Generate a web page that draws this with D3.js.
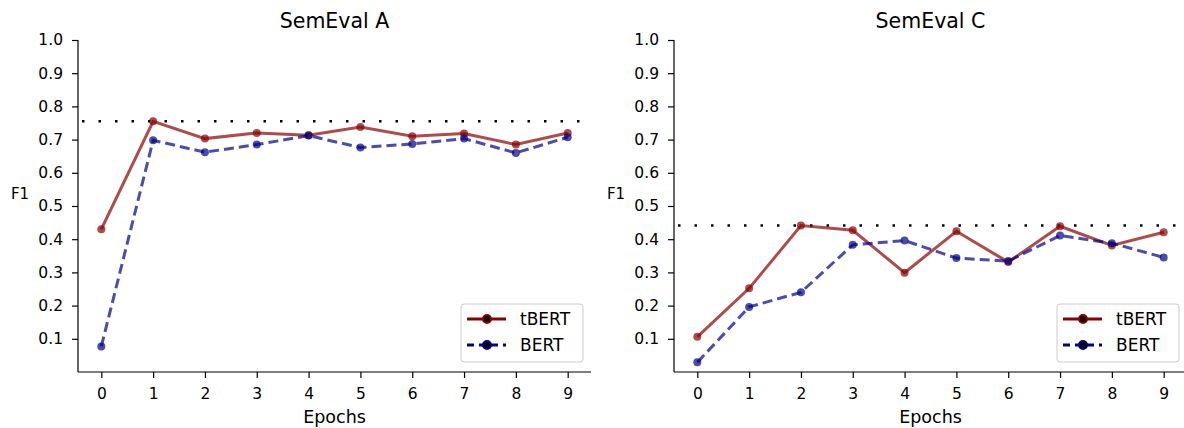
<!DOCTYPE html>
<html>
<head>
<meta charset="utf-8">
<script src="https://cdn.jsdelivr.net/npm/d3@7"></script>
<style>
  body { margin: 0; background: #fff; }
  text { font-family: "DejaVu Sans", sans-serif; fill: #000; }
</style>
</head>
<body>
<div id="chart"></div>
<script>
// epochs on the x axis
const epochs = [0, 1, 2, 3, 4, 5, 6, 7, 8, 9];
const yTicks = [0.1, 0.2, 0.3, 0.4, 0.5, 0.6, 0.7, 0.8, 0.9, 1.0];

// SemEval A
const tbertA = [0.43, 0.755, 0.703, 0.72, 0.713, 0.738, 0.71, 0.718, 0.685, 0.72];
const bertA  = [0.077, 0.698, 0.662, 0.685, 0.712, 0.676, 0.687, 0.703, 0.66, 0.707];
const bestA = 0.755;

// SemEval C
const tbertC = [0.106, 0.252, 0.441, 0.427, 0.299, 0.424, 0.331, 0.439, 0.381, 0.421];
const bertC  = [0.029, 0.196, 0.24, 0.383, 0.396, 0.343, 0.334, 0.411, 0.388, 0.345];
const bestC = 0.441;

const width = 1184, height = 428;

const svg = d3.select("#chart")
  .append("svg")
  .attr("width", width)
  .attr("height", height);

const panels = [
  { title: "SemEval A", left: 78, tbert: tbertA, bert: bertA, best: bestA },
  { title: "SemEval C", left: 674, tbert: tbertC, bert: bertC, best: bestC }
];

const series = [
  { key: "tbert", name: "tBERT", color: "#8b0000", dash: null },
  { key: "bert", name: "BERT", color: "#00008b", dash: "10,5" }
];

panels.forEach(p => {
  const plotW = 513;
  const x = d3.scaleLinear().domain([-0.45, 9.45]).range([p.left, p.left + plotW]);
  const y = d3.scaleLinear().domain([0, 1]).range([372, 40]);

  const g = svg.append("g");

  // axes
  g.append("g")
    .attr("transform", `translate(0,${y(0)})`)
    .call(d3.axisBottom(x).tickValues(epochs).tickSize(6).tickPadding(10).tickFormat(d3.format("d")))
    .call(a => a.select(".domain").attr("d", `M${p.left},0H${p.left + plotW}`).attr("stroke-width", 1.2))
    .call(a => a.selectAll(".tick line").attr("stroke-width", 1.2))
    .selectAll("text").style("font-size", "15.5px").style("font-family", "DejaVu Sans");

  g.append("g")
    .attr("transform", `translate(${p.left},0)`)
    .call(d3.axisLeft(y).tickValues(yTicks).tickSize(6).tickPadding(9).tickFormat(d3.format(".1f")))
    .call(a => a.select(".domain").attr("d", `M0,${y(0)}V${y(1)}`).attr("stroke-width", 1.2))
    .call(a => a.selectAll(".tick line").attr("stroke-width", 1.2))
    .selectAll("text").style("font-size", "15.5px").style("font-family", "DejaVu Sans");

  // title and labels
  g.append("text")
    .attr("x", p.left + plotW / 2)
    .attr("y", 28)
    .attr("text-anchor", "middle")
    .style("font-size", "20.5px")
    .text(p.title);

  g.append("text")
    .attr("x", p.left + plotW / 2)
    .attr("y", 423)
    .attr("text-anchor", "middle")
    .style("font-size", "17.5px")
    .text("Epochs");

  g.append("text")
    .attr("x", p.left - 58)
    .attr("y", 199)
    .attr("text-anchor", "middle")
    .style("font-size", "15px")
    .text("F1");

  // best score reference line
  g.append("line")
    .attr("x1", p.left + 4)
    .attr("x2", p.left + plotW)
    .attr("y1", y(p.best))
    .attr("y2", y(p.best))
    .attr("stroke", "#000")
    .attr("stroke-width", 2.5)
    .attr("stroke-dasharray", "2.5,14");

  const line = d3.line()
    .x((d, i) => x(epochs[i]))
    .y(d => y(d));

  series.forEach(s => {
    const vals = p[s.key];
    g.append("path")
      .datum(vals)
      .attr("d", line)
      .attr("fill", "none")
      .attr("stroke", s.color)
      .attr("stroke-opacity", 0.7)
      .attr("stroke-width", 3)
      .attr("stroke-dasharray", s.dash);

    g.selectAll(null)
      .data(vals)
      .enter()
      .append("circle")
      .attr("cx", (d, i) => x(epochs[i]))
      .attr("cy", d => y(d))
      .attr("r", 4)
      .attr("fill", s.color)
      .attr("fill-opacity", 0.7);
  });

  // legend
  const lx = p.left + plotW - 130, ly = 304;
  const leg = g.append("g").attr("transform", `translate(${lx},${ly})`);
  leg.append("rect")
    .attr("width", 122)
    .attr("height", 58)
    .attr("rx", 3)
    .attr("fill", "#fff")
    .attr("fill-opacity", 0.8)
    .attr("stroke", "#cccccc")
    .attr("stroke-width", 1);

  series.forEach((s, i) => {
    const row = leg.append("g").attr("transform", `translate(0,${15 + i * 26})`);
    row.append("line")
      .attr("x1", 6).attr("x2", 45)
      .attr("stroke", s.color)
      .attr("stroke-width", 3)
      .attr("stroke-dasharray", s.dash ? "7,5" : null);
    row.append("circle")
      .attr("cx", 26)
      .attr("r", 4)
      .attr("fill", "#000")
      .attr("stroke", s.color)
      .attr("stroke-width", 2);
    row.append("text")
      .attr("x", 59)
      .attr("y", 6)
      .style("font-size", "17px")
      .text(s.name);
  });
});
</script>
</body>
</html>
